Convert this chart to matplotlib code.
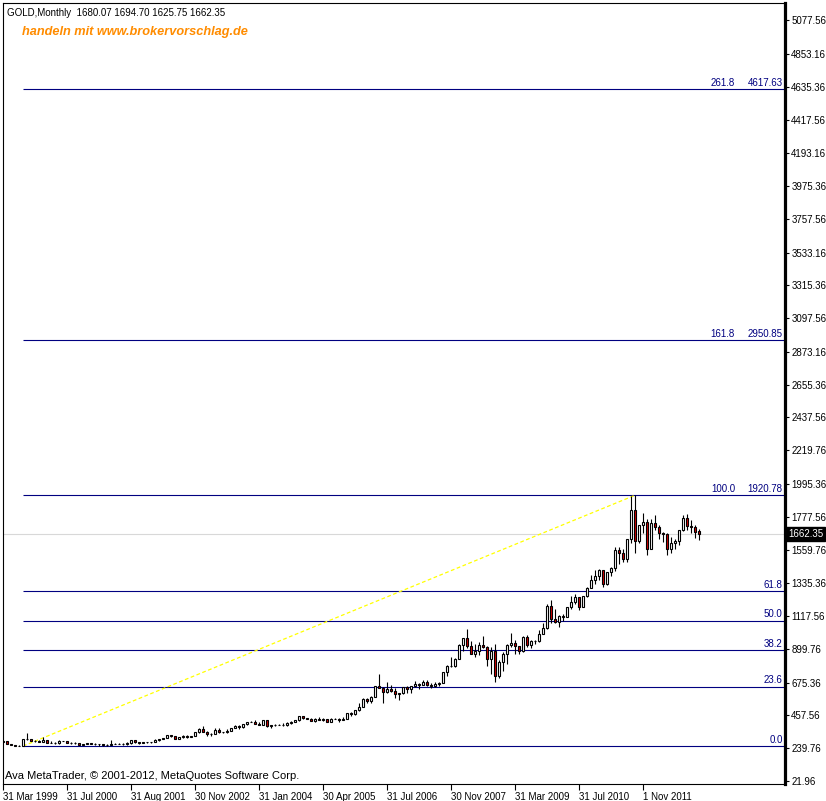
import matplotlib
matplotlib.use("Agg")
import matplotlib.pyplot as plt
import matplotlib.transforms as mtransforms

# ---------------- data ----------------
opens = [
    280, 286, 268, 261, 257, 256, 299, 299, 291,                     # 1999 Apr-Dec
    290, 283, 293, 277, 275, 272, 289, 287, 276, 277, 273, 264, 269, 272,   # 2000 (+extra)
    271, 265, 267, 258, 264, 267, 270, 268, 265, 273, 293, 279, 275, 279,   # 2001 (+extras)
    280, 282, 297, 301, 308, 326, 318, 304, 312, 324, 317, 319,             # 2002
    347, 368, 347, 334, 336, 361, 346, 347, 354, 375, 388, 384, 398, 416,   # 2003 (+extras)
    413, 399, 396, 427, 388, 393, 395, 394, 391, 407, 415, 429, 453, 438,   # 2004 (+extras)
    436, 422, 435, 428, 435, 417, 435, 434, 429, 433, 473, 470, 495,        # 2005 (+extra)
    513, 568, 556, 582, 654, 643, 613, 632, 623, 599, 604, 646,             # 2006
    632, 650, 665, 662, 680, 659, 650, 665, 672, 743, 789, 783,             # 2007
    834, 923, 972, 916, 864, 886, 928, 913, 833, 884, 718, 815,             # 2008
    869, 928, 942, 916, 883, 979, 926, 954, 955, 1001, 1040, 1182,          # 2009
    1096, 1081, 1118, 1113, 1179, 1213, 1244, 1181, 1248, 1307, 1357, 1386, # 2010
    1421, 1333, 1410, 1439, 1556, 1536, 1500, 1628, 1826, 1620, 1722, 1746, # 2011
    1565, 1738, 1710, 1669, 1664, 1561, 1604, 1614, 1687, 1772, 1719, 1713, # 2012
    1680.07,                                                                 # 2013 Jan
]
highs = [
    292, 290, 268, 264, 260, 300, 338, 302, 293,
    293, 317, 294, 288, 280, 294, 291, 290, 280, 278, 274, 270, 277, 274,
    273, 268, 268, 265, 292, 275, 272, 272, 280, 294, 293, 281, 281, 282,
    284, 300, 304, 310, 327, 330, 322, 315, 326, 325, 322, 350,
    372, 389, 354, 340, 373, 372, 350, 367, 376, 391, 391, 400, 417, 418,
    427, 417, 429, 430, 396, 404, 398, 408, 411, 418, 429, 456, 456, 440,
    443, 439, 445, 438, 436, 443, 438, 440, 446, 475, 479, 497, 541,
    572, 575, 587, 654, 730, 645, 677, 663, 637, 610, 649, 650,
    655, 689, 672, 692, 691, 673, 683, 678, 745, 790, 845, 838,
    934, 975, 1033, 950, 931, 944, 988, 918, 913, 934, 828, 882,
    934, 1007, 961, 920, 984, 989, 960, 962, 1024, 1070, 1195, 1227,
    1162, 1126, 1134, 1180, 1249, 1265, 1244, 1252, 1308, 1388, 1424, 1432,
    1424, 1413, 1447, 1576, 1577, 1561, 1632, 1913, 1920.78, 1725, 1803, 1764,
    1764, 1791, 1720, 1678, 1669, 1641, 1632, 1693, 1789, 1796, 1755, 1723,
    1694.70,
]
lows = [
    278, 267, 258, 256, 255, 254.0, 293, 285, 280,
    280, 282, 276, 274, 270, 270, 285, 276, 270, 268, 263, 263, 268, 269,
    262, 255, 257, 255, 263, 265, 267, 264, 264, 271, 275, 271, 273, 277,
    277, 282, 289, 300, 307, 314, 302, 301, 311, 309, 315, 318,
    343, 345, 320, 319, 335, 341, 343, 342, 352, 372, 370, 376, 397, 411,
    398, 393, 392, 380, 371, 385, 392, 387, 387, 399, 411, 423, 433, 434,
    418, 411, 424, 422, 414, 414, 432, 415, 427, 433, 456, 459, 487,
    513, 538, 538, 579, 638, 543, 607, 612, 573, 560, 602, 608,
    604, 648, 636, 663, 651, 642, 648, 653, 671, 722, 777, 781,
    833, 886, 904, 864, 849, 858, 907, 786, 735, 681, 705, 754,
    802, 915, 866, 865, 880, 915, 904, 930, 944, 1003, 1030, 1075,
    1072, 1044, 1088, 1115, 1165, 1199, 1155, 1176, 1242, 1316, 1331, 1360,
    1309, 1324, 1381, 1415, 1462, 1478, 1478, 1603, 1535, 1602, 1668, 1522,
    1564, 1693, 1627, 1613, 1527, 1540, 1562, 1587, 1684, 1693, 1672, 1636,
    1625.75,
]
closes = [
    286, 268, 261, 257, 256, 299, 299, 291, 290,
    283, 293, 277, 275, 272, 289, 287, 276, 277, 273, 264, 269, 272, 271,
    265, 267, 258, 264, 267, 270, 268, 265, 273, 293, 279, 275, 279, 280,
    282, 297, 301, 308, 326, 318, 304, 312, 324, 317, 319, 347,
    368, 347, 334, 336, 361, 346, 347, 354, 375, 388, 384, 398, 416, 413,
    399, 396, 427, 388, 393, 395, 394, 391, 407, 415, 429, 453, 438, 436,
    422, 435, 428, 435, 417, 435, 434, 429, 433, 473, 470, 495, 513,
    568, 556, 582, 654, 643, 613, 632, 623, 599, 604, 646, 632,
    650, 665, 662, 680, 659, 650, 665, 672, 743, 789, 783, 834,
    923, 972, 916, 864, 886, 928, 913, 833, 884, 718, 815, 869,
    928, 942, 916, 883, 979, 926, 954, 955, 1001, 1040, 1182, 1096,
    1081, 1118, 1113, 1179, 1213, 1244, 1181, 1248, 1307, 1357, 1386, 1421,
    1333, 1410, 1439, 1556, 1536, 1500, 1628, 1826, 1620, 1722, 1746, 1565,
    1738, 1710, 1669, 1664, 1561, 1604, 1614, 1687, 1772, 1719, 1713, 1675,
    1662.35,
]

date_tick_bars = [0, 16, 32, 48, 64, 80, 96, 112, 128, 144, 160]
date_tick_labels = ["31 Mar 1999", "31 Jul 2000", "31 Aug 2001", "30 Nov 2002",
                    "31 Jan 2004", "30 Apr 2005", "31 Jul 2006", "30 Nov 2007",
                    "31 Mar 2009", "31 Jul 2010", "1 Nov 2011"]

price_ticks = [21.96, 239.76, 457.56, 675.36, 899.76, 1117.56, 1335.36, 1559.76,
               1777.56, 1995.36, 2219.76, 2437.56, 2655.36, 2873.16, 3097.56,
               3315.36, 3533.16, 3757.56, 3975.36, 4193.16, 4417.56, 4635.36,
               4853.16, 5077.56]
price_tick_labels = ["%.2f" % v for v in price_ticks]

fib_pcts = ["0.0", "23.6", "38.2", "50.0", "61.8", "100.0", "161.8", "261.8"]
fib_prices = [254.0, 647.4, 890.7, 1087.4, 1284.1, 1920.78, 2950.85, 4617.63]
fib_show_price = [False, False, False, False, False, True, True, True]

fib_start_bar = 5
fib_end_bar = 158

last_price = 1662.35
title_text = "GOLD,Monthly  1680.07 1694.70 1625.75 1662.35"
ad_text = "handeln mit www.brokervorschlag.de"
copy_text = "Ava MetaTrader, \u00a9 2001-2012, MetaQuotes Software Corp."

# ---------------- drawing ----------------
W, H = 826, 801
fig = plt.figure(figsize=(W / 100, H / 100), dpi=100)
fig.patch.set_facecolor("white")
ax_l, ax_r, ax_t, ax_b = 3, 785, 3, 784
ax = fig.add_axes([ax_l / W, (H - ax_b) / H, (ax_r - ax_l) / W, (ax_b - ax_t) / H])
ax.set_facecolor("white")

px_per_bar = 4.0
ax.set_xlim(0, (ax_r - ax_l) / px_per_bar)
ppp = 6.645  # price per pixel
ax.set_ylim(21.96 - 3 * ppp, 21.96 + 778 * ppp)

FONT = "Liberation Sans"
navy = "#000080"
FS = 7.0

# fib lines
xmax = ax.get_xlim()[1]
for pct, pr, show in zip(fib_pcts, fib_prices, fib_show_price):
    ax.hlines(pr, fib_start_bar, xmax, colors=navy, linewidth=0.8, zorder=1)
    if show:
        ax.text(183.0, pr + 1.5 * ppp, pct, color=navy, fontsize=FS, family=FONT,
                ha="right", va="bottom")
        ax.text(194.9, pr + 1.5 * ppp, "%.2f" % pr, color=navy, fontsize=FS,
                family=FONT, ha="right", va="bottom")
    else:
        ax.text(194.9, pr + 1.5 * ppp, pct, color=navy, fontsize=FS, family=FONT,
                ha="right", va="bottom")

# last price grey line
ax.axhline(last_price, color="#D8D8D8", linewidth=0.8, zorder=0.5)

# trend line
ax.plot([fib_start_bar, fib_end_bar], [fib_prices[0], fib_prices[5]],
        color="#FFFF00", linewidth=0.9, dashes=(3.0, 2.0), zorder=1.5)

# candles
idx = list(range(len(closes)))
ax.vlines(idx, lows, highs, colors="black", linewidth=0.8, zorder=2)
bottoms = [min(o, c) for o, c in zip(opens, closes)]
heights = [max(abs(c - o), 0.8) for o, c in zip(opens, closes)]
colors = ["white" if c >= o else "#D40000" for o, c in zip(opens, closes)]
ax.bar(idx, heights, bottom=bottoms, width=0.62, color=colors,
       edgecolor="black", linewidth=0.8, zorder=3)

# spines
for s in ["left", "top", "bottom"]:
    ax.spines[s].set_linewidth(0.8)
    ax.spines[s].set_color("black")
ax.spines["right"].set_linewidth(2.3)
ax.spines["right"].set_color("black")

# y ticks on right
ax.yaxis.tick_right()
ax.set_yticks(price_ticks)
ax.set_yticklabels(price_tick_labels, family=FONT, fontsize=FS)
ax.tick_params(axis="y", direction="out", length=3, width=0.8, pad=1.5,
               colors="black")

# x ticks
ax.set_xticks(date_tick_bars)
ax.set_xticklabels(date_tick_labels, family=FONT, fontsize=FS)
for lab in ax.get_xticklabels():
    lab.set_ha("left")
ax.tick_params(axis="x", direction="out", length=4, width=0.8, pad=1.5,
               colors="black")

# current price badge
tr = mtransforms.blended_transform_factory(ax.transAxes, ax.transData)
ax.text(1.004, last_price, "%.2f" % last_price, transform=tr, color="white",
        fontsize=FS, family=FONT, ha="left", va="center", zorder=10,
        bbox=dict(boxstyle="square,pad=0.18", facecolor="black", edgecolor="black"),
        clip_on=False)

# texts
fig.text(7 / W, 1 - 12.5 / H, title_text, family=FONT, fontsize=FS,
         color="black", ha="left", va="center")
fig.text(22 / W, 1 - 31.5 / H, ad_text, family=FONT, fontsize=9.2,
         fontweight="bold", fontstyle="italic", color="#FF8C00",
         ha="left", va="center")
fig.text(5 / W, 1 - 776 / H, copy_text, family=FONT, fontsize=8.0,
         color="black", ha="left", va="center")

fig.savefig("out.png", dpi=100, facecolor="white")
